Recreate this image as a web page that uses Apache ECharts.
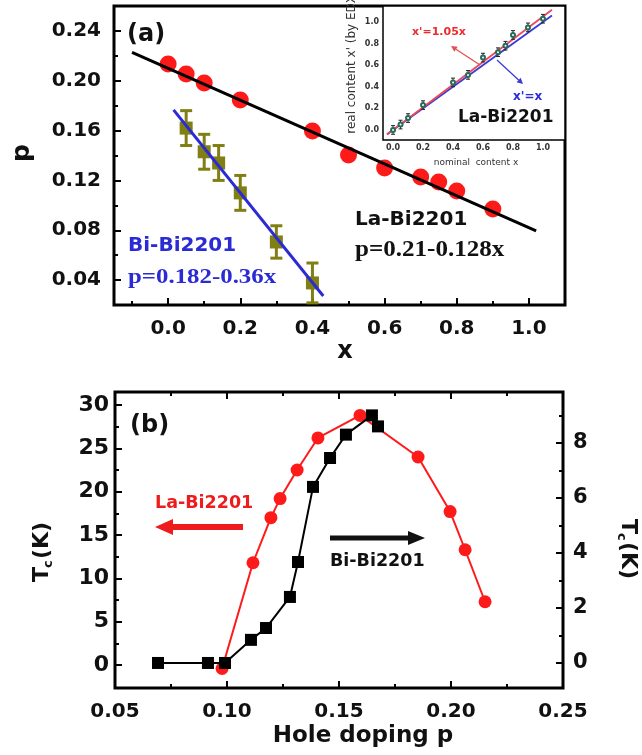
<!DOCTYPE html>
<html>
<head>
<meta charset="utf-8">
<script src="https://cdn.jsdelivr.net/npm/echarts@6/dist/echarts.min.js"></script>
<style>
  html, body { margin: 0; padding: 0; background: #fff; }
  #chart { width: 642px; height: 755px; }
</style>
</head>
<body>
<div id="chart"></div>
<script>
// ---------- Panel (a): hole concentration p versus content x ----------
const laX = [0, 0.05, 0.1, 0.2, 0.4, 0.5, 0.6, 0.7, 0.75, 0.8, 0.9];
const laP = [0.2134, 0.2054, 0.1982, 0.1845, 0.1597, 0.1404, 0.130, 0.1227, 0.1187, 0.1115, 0.097];
const biX = [0.05, 0.1, 0.14, 0.2, 0.3, 0.4];
const biP = [0.162, 0.143, 0.134, 0.110, 0.0706, 0.0377];
const biErr = [0.014, 0.014, 0.014, 0.014, 0.013, 0.016];
// linear fits as written on the plot: [intercept, slope] and the x span they cover
const laFit = [0.21, -0.128];
const laFitSpan = [-0.1, 1.02];
const biFit = [0.182, -0.36];
const biFitSpan = [0.015, 0.43];
const aXTicks = [0, 0.2, 0.4, 0.6, 0.8, 1.0];
const aXMinor = [-0.1, 0.1, 0.3, 0.5, 0.7, 0.9];
const aYTicks = [0.04, 0.08, 0.12, 0.16, 0.20, 0.24];
const aYMinor = [0.06, 0.10, 0.14, 0.18, 0.22];

// ---------- Inset: EDX content versus nominal content ----------
const edxNominal = [0, 0.05, 0.1, 0.2, 0.4, 0.5, 0.6, 0.7, 0.75, 0.8, 0.9, 1.0];
const edxReal = [0.0, 0.05, 0.11, 0.23, 0.44, 0.51, 0.67, 0.72, 0.78, 0.88, 0.95, 1.03];
const edxErr = [0.04, 0.04, 0.04, 0.04, 0.04, 0.04, 0.04, 0.04, 0.04, 0.04, 0.04, 0.04];
const insetSlopes = [1.05, 1.0];          // x' = 1.05x (red), x' = x (blue)
const insetSpan = [-0.04, 1.06];
const inTicks = [0, 0.2, 0.4, 0.6, 0.8, 1.0];
const inMinor = [0.1, 0.3, 0.5, 0.7, 0.9];

// ---------- Panel (b): Tc versus hole doping p ----------
const laHole = [0.0978, 0.1116, 0.1196, 0.1237, 0.1313, 0.1406, 0.1594, 0.1853, 0.1996, 0.2063, 0.2152];
const laTc = [-0.4, 11.8, 17.0, 19.2, 22.5, 26.2, 28.8, 24.0, 17.7, 13.3, 7.3];
const biHole = [0.0692, 0.0915, 0.0991, 0.1107, 0.1174, 0.1281, 0.1317, 0.1384, 0.146, 0.1531, 0.1647, 0.1674];
const biTc = [0, 0, 0, 0.84, 1.27, 2.4, 3.67, 6.4, 7.45, 8.3, 9.0, 8.6];
const bXTicks = [0.05, 0.10, 0.15, 0.20, 0.25];
const bXMinor = [0.075, 0.125, 0.175, 0.225];
const bLTicks = [0, 5, 10, 15, 20, 25, 30];
const bLMinor = [2.5, 7.5, 12.5, 17.5, 22.5, 27.5];
const bRTicks = [0, 2, 4, 6, 8];
const bRMinor = [1, 3, 5, 7, 9];

const SANS = 'DejaVu Sans';
const SERIF = 'Liberation Serif';
const RED = '#ff1a1a';
const OLIVE = '#7f7f14';
const BLUE = '#2b2bd6';

const pairs = (xs, ys) => xs.map((x, i) => [x, ys[i]]);
const triples = (xs, ys, es) => xs.map((x, i) => [x, ys[i], es[i]]);
const fitLine = (fit, span) => span.map(x => [x, fit[0] + fit[1] * x]);

// one axis carries labels and long ticks, a twin on the same side carries the short ticks
function axis(grid, min, max, o) {
  return {
    type: 'value', gridIndex: grid, min: min, max: max,
    position: o.position, splitLine: { show: false },
    axisLine: { show: false, onZero: false },
    axisTick: { show: !!o.ticks, inside: true, length: o.len || 6,
                customValues: o.ticks || [], lineStyle: { color: '#000', width: o.tw || 2 } },
    axisLabel: { show: !!o.labels, customValues: o.labels || [], margin: o.margin || 10,
                 color: o.color || '#111', fontFamily: SANS, fontWeight: o.fw || 'bold',
                 fontSize: o.fs || 20, formatter: o.fmt }
  };
}

const xAxes = [
  axis(0, -0.15, 1.10, { position: 'bottom', ticks: aXTicks, labels: aXTicks, len: 7, margin: 14, fs: 20,
        fmt: v => v.toFixed(1) }),
  axis(0, -0.15, 1.10, { position: 'bottom', ticks: aXMinor, len: 4 }),
  axis(1, -0.067, 1.147, { position: 'bottom', ticks: inTicks, labels: inTicks, len: 3, tw: 1, margin: 4,
        fs: 8, color: '#333', fmt: v => v.toFixed(1) }),
  axis(1, -0.067, 1.147, { position: 'bottom', ticks: inMinor, len: 2, tw: 1 }),
  axis(2, 0.05, 0.25, { position: 'bottom', ticks: bXTicks, labels: bXTicks, len: 7, margin: 14, fs: 20,
        fmt: v => v.toFixed(2) }),
  axis(2, 0.05, 0.25, { position: 'bottom', ticks: bXMinor, len: 4 }),
  axis(2, 0.05, 0.25, { position: 'top', ticks: bXTicks, len: 7 }),
  axis(2, 0.05, 0.25, { position: 'top', ticks: bXMinor, len: 4 })
];
const yAxes = [
  axis(0, 0.02, 0.26, { position: 'left', ticks: aYTicks, labels: aYTicks, len: 7, margin: 13, fs: 20,
        fmt: v => v.toFixed(2) }),
  axis(0, 0.02, 0.26, { position: 'left', ticks: aYMinor, len: 4 }),
  axis(1, -0.093, 1.148, { position: 'left', ticks: inTicks, labels: inTicks, len: 3, tw: 1, margin: 4,
        fs: 8, color: '#333', fmt: v => v.toFixed(1) }),
  axis(1, -0.093, 1.148, { position: 'left', ticks: inMinor, len: 2, tw: 1 }),
  axis(2, -2.65, 31.5, { position: 'left', ticks: bLTicks, labels: bLTicks, len: 7, margin: 6, fs: 22,
        fmt: v => String(v) }),
  axis(2, -2.65, 31.5, { position: 'left', ticks: bLMinor, len: 4 }),
  axis(2, -0.91, 9.85, { position: 'right', ticks: bRTicks, labels: bRTicks, len: 7, margin: 10, fs: 21,
        fmt: v => String(v) }),
  axis(2, -0.91, 9.85, { position: 'right', ticks: bRMinor, len: 4 })
];

function errorBars(color, width, cap) {
  return function (params, api) {
    const x = api.value(0), y = api.value(1), e = api.value(2);
    const hi = api.coord([x, y + e]);
    const lo = api.coord([x, y - e]);
    const st = { stroke: color, lineWidth: width };
    return {
      type: 'group',
      children: [
        { type: 'line', shape: { x1: hi[0], y1: hi[1], x2: lo[0], y2: lo[1] }, style: st },
        { type: 'line', shape: { x1: hi[0] - cap, y1: hi[1], x2: hi[0] + cap, y2: hi[1] }, style: st },
        { type: 'line', shape: { x1: lo[0] - cap, y1: lo[1], x2: lo[0] + cap, y2: lo[1] }, style: st }
      ]
    };
  };
}

function txt(x, y, s, font, color, align, rot, sx) {
  return {
    type: 'text', x: x, y: y, z: 100, rotation: rot || 0, scaleX: sx || 1,
    style: { text: s, font: font, fill: color || '#111', textAlign: align || 'left', textVerticalAlign: 'middle' }
  };
}

// T_c(K) with a subscript, rotated as one group
function tcTitle(cx, cy, rot) {
  const f = 'bold 22px ' + SANS;
  return {
    type: 'group', x: cx, y: cy, rotation: rot, z: 100,
    children: [
      { type: 'text', x: -31, y: 0, style: { text: 'T', font: f, fill: '#111', textVerticalAlign: 'middle' } },
      { type: 'text', x: -17, y: 7, style: { text: 'c', font: 'bold 13px ' + SANS, fill: '#111', textVerticalAlign: 'middle' } },
      { type: 'text', x: -8, y: 0, style: { text: '(K)', font: f, fill: '#111', textVerticalAlign: 'middle' } }
    ]
  };
}

function thinArrow(x1, y1, x2, y2, color) {
  // the head sits at (x2, y2)
  const a = Math.atan2(y2 - y1, x2 - x1), L = 6, W = 3;
  const bx = x2 - L * Math.cos(a), by = y2 - L * Math.sin(a);
  return [
    { type: 'line', z: 100, shape: { x1: x1, y1: y1, x2: bx, y2: by }, style: { stroke: color, lineWidth: 1.3 } },
    { type: 'polygon', z: 100, shape: { points: [[x2, y2],
        [bx + W * Math.sin(a), by - W * Math.cos(a)], [bx - W * Math.sin(a), by + W * Math.cos(a)]] },
      style: { fill: color } }
  ];
}

function fatArrow(tailX, tipX, y, color, shaft, headLen, headHalf) {
  const dir = tipX > tailX ? 1 : -1;
  const baseX = tipX - dir * headLen;
  return {
    type: 'polygon', z: 100,
    shape: { points: [[tailX, y - shaft / 2], [baseX, y - shaft / 2], [baseX, y - headHalf], [tipX, y],
                      [baseX, y + headHalf], [baseX, y + shaft / 2], [tailX, y + shaft / 2]] },
    style: { fill: color }
  };
}

const graphics = [
  // panel (a)
  txt(127, 35, '(a)', 'bold 24px ' + SANS),
  txt(128, 246, 'Bi-Bi2201', 'bold 20px ' + SANS, BLUE),
  txt(128, 277, 'p=0.182-0.36x', 'bold 22px ' + SERIF, BLUE, 'left', 0, 1.13),
  txt(355, 220, 'La-Bi2201', 'bold 20px ' + SANS, '#111'),
  txt(355, 250, 'p=0.21-0.128x', 'bold 23px ' + SERIF, '#111', 'left', 0, 1.09),
  txt(345, 352, 'x', 'bold 24px ' + SANS, '#111', 'center'),
  txt(22, 153, 'p', 'bold 25px ' + SANS, '#111', 'center', Math.PI / 2),
  // inset
  txt(412, 32, "x'=1.05x", 'bold 11px ' + SANS, '#ee2a2a'),
  txt(513, 97, "x'=x", 'bold 12px ' + SANS, '#2a2ae0'),
  txt(458, 118, 'La-Bi2201', 'bold 17px ' + SANS, '#111'),
  txt(476, 163, 'nominal  content x', '9px ' + SANS, '#333', 'center'),
  txt(352, 62, "real content x' (by EDX)", '12px ' + SANS, '#333', 'center', Math.PI / 2),
  ...thinArrow(480, 65, 451, 46, '#e05050'),
  ...thinArrow(497, 60, 523, 84, '#3a3ad8'),
  // panel (b)
  txt(130, 426, '(b)', 'bold 24px ' + SANS),
  txt(155, 503, 'La-Bi2201', 'bold 17.5px ' + SANS, '#ee1c1c'),
  fatArrow(243, 155, 527, '#ee1c1c', 6, 18, 8),
  fatArrow(330, 425, 538, '#111', 5, 17, 7),
  txt(330, 561, 'Bi-Bi2201', 'bold 17.5px ' + SANS, '#111'),
  txt(363, 736, 'Hole doping p', 'bold 23px ' + SANS, '#111', 'center'),
  tcTitle(42, 551, Math.PI / 2),
  tcTitle(628, 550, -Math.PI / 2)
];

const option = {
  animation: false,
  backgroundColor: '#fff',
  grid: [
    { left: 114, top: 6, width: 451, height: 299, show: true, borderColor: '#000', borderWidth: 3, backgroundColor: 'transparent' },
    { left: 383, top: 6, width: 182, height: 134, show: true, borderColor: '#000', borderWidth: 1.5, backgroundColor: '#fff', z: 3 },
    { left: 115, top: 392, width: 448, height: 296, show: true, borderColor: '#000', borderWidth: 3, backgroundColor: 'transparent' }
  ],
  xAxis: xAxes,
  yAxis: yAxes,
  series: [
    // panel (a)
    { type: 'scatter', xAxisIndex: 0, yAxisIndex: 0, data: pairs(laX, laP), symbol: 'circle', symbolSize: 17,
      itemStyle: { color: RED, opacity: 1 }, z: 3 },
    { type: 'line', xAxisIndex: 0, yAxisIndex: 0, data: fitLine(laFit, laFitSpan), showSymbol: false,
      lineStyle: { color: '#000', width: 3 }, z: 4 },
    { type: 'custom', xAxisIndex: 0, yAxisIndex: 0, data: triples(biX, biP, biErr),
      renderItem: errorBars(OLIVE, 3, 6), z: 3 },
    { type: 'scatter', xAxisIndex: 0, yAxisIndex: 0, data: pairs(biX, biP), symbol: 'rect', symbolSize: 13,
      itemStyle: { color: OLIVE, opacity: 1 }, z: 3 },
    { type: 'line', xAxisIndex: 0, yAxisIndex: 0, data: fitLine(biFit, biFitSpan), showSymbol: false,
      lineStyle: { color: BLUE, width: 3 }, z: 4 },
    // inset
    { type: 'line', xAxisIndex: 2, yAxisIndex: 2, data: fitLine([0, insetSlopes[1]], insetSpan), showSymbol: false,
      lineStyle: { color: '#3a3ad8', width: 1.8 }, z: 5 },
    { type: 'line', xAxisIndex: 2, yAxisIndex: 2, data: fitLine([0, insetSlopes[0]], insetSpan), showSymbol: false,
      lineStyle: { color: '#e84a5a', width: 1.8 }, z: 5 },
    { type: 'custom', xAxisIndex: 2, yAxisIndex: 2, data: triples(edxNominal, edxReal, edxErr),
      renderItem: errorBars('#222', 1, 2), z: 6 },
    { type: 'scatter', xAxisIndex: 2, yAxisIndex: 2, data: pairs(edxNominal, edxReal), symbol: 'emptyCircle',
      symbolSize: 4, itemStyle: { color: '#2a6a5a', borderWidth: 1, opacity: 1 }, z: 6 },
    // panel (b)
    { type: 'line', xAxisIndex: 4, yAxisIndex: 4, data: pairs(laHole, laTc), symbol: 'circle', symbolSize: 13,
      itemStyle: { color: RED }, lineStyle: { color: RED, width: 2 }, z: 4 },
    { type: 'line', xAxisIndex: 4, yAxisIndex: 6, data: pairs(biHole, biTc), symbol: 'rect', symbolSize: 12,
      itemStyle: { color: '#000' }, lineStyle: { color: '#000', width: 2 }, z: 5 }
  ],
  graphic: graphics
};

const chart = echarts.init(document.getElementById('chart'), null, { renderer: 'canvas' });
chart.setOption(option);
</script>
</body>
</html>
